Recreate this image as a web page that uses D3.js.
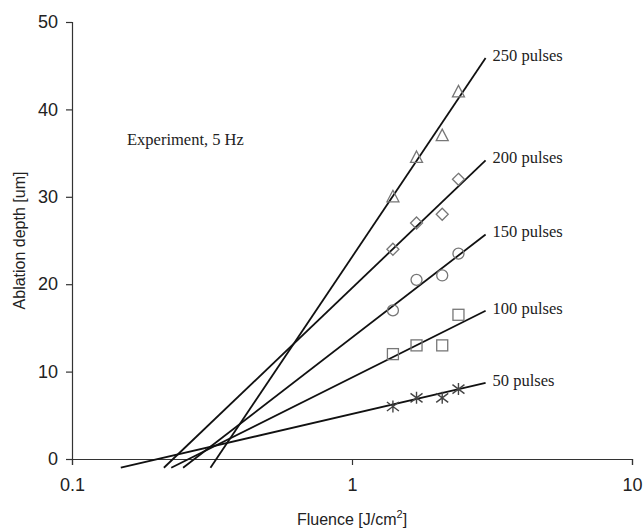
<!DOCTYPE html>
<html>
<head>
<meta charset="utf-8">
<script src="https://cdn.jsdelivr.net/npm/d3@7/dist/d3.min.js"></script>
<style>
  html, body { margin: 0; padding: 0; background: #fff; }
  svg { display: block; }
</style>
</head>
<body>
<svg id="chart" width="643" height="530"></svg>
<script>
// Measured fluence values (J/cm^2)
const fluence = [1.4, 1.7, 2.1, 2.4];

// Ablation depth (um) for each pulse count
const pulses = ["50 pulses", "100 pulses", "150 pulses", "200 pulses", "250 pulses"];
const depth50  = [6, 7, 7, 8];
const depth100 = [12, 13, 13, 16.5];
const depth150 = [17, 20.5, 21, 23.5];
const depth200 = [24, 27, 28, 32];
const depth250 = [30, 34.5, 37, 42];
const depths = [depth50, depth100, depth150, depth200, depth250];

// Logarithmic trend lines: depth = slope * log10(F) + intercept
const trendSlope     = [7.46, 16.0, 24.7, 30.6, 47.7];
const trendIntercept = [5.16, 9.33, 13.9, 19.56, 23.11];
const trendEnd = 3;      // fluence where the trend lines stop
const trendFloor = -1;   // depth where the back-extended lines stop

const markerShapes = ["star", "square", "circle", "diamond", "triangle"];

const xTicks = [0.1, 1, 10];
const yTicks = [0, 10, 20, 30, 40, 50];

const svg = d3.select("#chart");
const margin = { left: 72, right: 11, top: 22, bottom: 71 };
const W = 643, H = 530;

const x = d3.scaleLog().domain([0.1, 10]).range([margin.left, W - margin.right]);
const y = d3.scaleLinear().domain([0, 50]).range([H - margin.bottom, margin.top]);

const axisColor = "#333";
const fontSans = "Arial, 'Liberation Sans', Helvetica, sans-serif";
const fontSerif = "'Times New Roman', 'Liberation Serif', Times, serif";

// Axes
const xAxis = svg.append("g")
  .attr("transform", `translate(0,${y(0)})`)
  .call(d3.axisBottom(x).tickValues(xTicks).tickFormat(d3.format("")).tickSizeOuter(0).tickSize(6).tickPadding(13));
const yAxis = svg.append("g")
  .attr("transform", `translate(${x(0.1)},0)`)
  .call(d3.axisLeft(y).tickValues(yTicks).tickSizeOuter(0).tickSize(6).tickPadding(8));

[xAxis, yAxis].forEach(g => {
  g.select(".domain").attr("stroke", axisColor).attr("stroke-width", 1.2);
  g.selectAll(".tick line").attr("stroke", axisColor).attr("stroke-width", 1.2);
  g.selectAll(".tick text")
    .attr("fill", "#222")
    .style("font-family", fontSans)
    .style("font-size", "18px");
});

// Axis titles
svg.append("text")
  .attr("x", x(1)).attr("y", 525)
  .attr("text-anchor", "middle")
  .style("font-family", fontSans).style("font-size", "16px").attr("fill", "#222")
  .call(t => {
    t.append("tspan").text("Fluence [J/cm");
    t.append("tspan").text("2").attr("dy", -7).style("font-size", "11px");
    t.append("tspan").text("]").attr("dy", 7);
  });

svg.append("text")
  .attr("transform", `translate(25,${(y(0) + y(50)) / 2}) rotate(-90)`)
  .attr("text-anchor", "middle")
  .style("font-family", fontSans).style("font-size", "16px").attr("fill", "#222")
  .text("Ablation depth [um]");

// Trend lines
const trend = (i, f) => trendSlope[i] * Math.log10(f) + trendIntercept[i];
pulses.forEach((name, i) => {
  const fStart = Math.pow(10, (trendFloor - trendIntercept[i]) / trendSlope[i]);
  svg.append("line")
    .attr("x1", x(fStart)).attr("y1", y(trend(i, fStart)))
    .attr("x2", x(trendEnd)).attr("y2", y(trend(i, trendEnd)))
    .attr("stroke", "#111").attr("stroke-width", 1.8);
  svg.append("text")
    .attr("x", x(trendEnd) + 7).attr("y", y(trend(i, trendEnd)) - 1)
    .attr("dominant-baseline", "middle")
    .style("font-family", fontSerif).style("font-size", "16.5px").attr("fill", "#222")
    .text(name);
});

// Markers
const markerColor = "#777";
function drawMarker(g, shape, cx, cy) {
  if (shape === "circle") {
    g.append("circle").attr("cx", cx).attr("cy", cy).attr("r", 5.5)
      .attr("fill", "none").attr("stroke", markerColor).attr("stroke-width", 1.3);
  } else if (shape === "square") {
    g.append("rect").attr("x", cx - 5.5).attr("y", cy - 5.5).attr("width", 11).attr("height", 11)
      .attr("fill", "none").attr("stroke", markerColor).attr("stroke-width", 1.3);
  } else if (shape === "diamond") {
    g.append("path").attr("d", `M${cx},${cy - 6}L${cx + 6},${cy}L${cx},${cy + 6}L${cx - 6},${cy}Z`)
      .attr("fill", "none").attr("stroke", markerColor).attr("stroke-width", 1.3);
  } else if (shape === "triangle") {
    g.append("path").attr("d", `M${cx},${cy - 6.5}L${cx + 6},${cy + 5}L${cx - 6},${cy + 5}Z`)
      .attr("fill", "none").attr("stroke", markerColor).attr("stroke-width", 1.3);
  } else if (shape === "star") {
    const r = 6;
    g.append("path")
      .attr("d", `M${cx},${cy - r}L${cx},${cy + r}M${cx - r},${cy - r * 0.75}L${cx + r},${cy + r * 0.75}M${cx - r},${cy + r * 0.75}L${cx + r},${cy - r * 0.75}`)
      .attr("fill", "none").attr("stroke", "#444").attr("stroke-width", 1.4);
  }
}
const markers = svg.append("g");
depths.forEach((series, i) => {
  series.forEach((d, j) => drawMarker(markers, markerShapes[i], x(fluence[j]), y(d)));
});

// Annotation
svg.append("text")
  .attr("x", 127).attr("y", 145)
  .style("font-family", fontSerif).style("font-size", "16.5px").attr("fill", "#222")
  .text("Experiment, 5 Hz");
</script>
</body>
</html>
